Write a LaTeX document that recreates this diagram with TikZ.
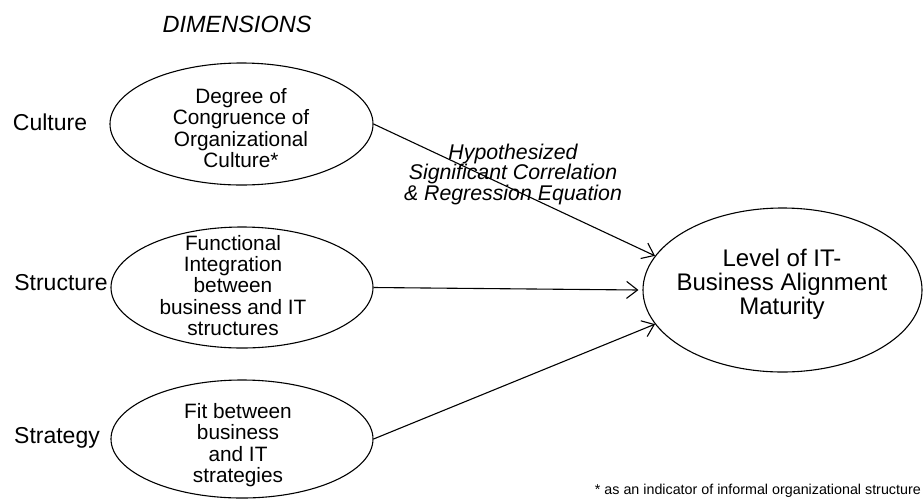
\documentclass[tikz,border=0pt]{standalone}
\usepackage{fontspec}
\setmainfont{Liberation Sans}
\usetikzlibrary{arrows.meta,shapes.geometric}
\begin{document}
\begin{tikzpicture}[x=1pt,y=-1pt,
  ell/.style={draw,ellipse,line width=1.1pt,inner sep=0pt},
  etxt/.style={align=center,inner sep=0pt,font=\fontsize{20.8}{21.3}\selectfont},
  ttxt/.style={align=center,inner sep=0pt,font=\fontsize{24}{24}\selectfont},
  dimlabel/.style={inner sep=0pt,font=\fontsize{23}{24}\selectfont},
  itxt/.style={align=center,inner sep=0pt,font=\fontsize{21.3}{20.5}\selectfont\itshape},
  conn/.style={line width=1.1pt,-{Straight Barb[length=11pt,width=17pt,line width=1.1pt]}}
]
\useasboundingbox (0,0) rectangle (923,499);

\node[inner sep=0pt,font=\fontsize{23.5}{24}\selectfont\itshape] (dim) at (237,24) {DIMENSIONS};

\node[dimlabel] (lc) at (50,122) {Culture};
\node[dimlabel] (ls) at (61,283) {Structure};
\node[dimlabel] (lg) at (57,438) {Strategy};

\node[ell,minimum width=263pt,minimum height=122pt] (c) at (241.5,124) {};
\node[etxt] (ct) at (241,128) {Degree of\\Congruence of\\Organizational\\Culture*};

\node[ell,minimum width=262pt,minimum height=121pt] (s) at (242,287.5) {};
\node[etxt] (st) at (233,285.5) {Functional\\Integration\\between\\business and IT\\structures};

\node[ell,minimum width=262pt,minimum height=118pt] (g) at (242,439) {};
\node[etxt] (gt) at (238,445) {Fit between\\business\\and IT\\strategies};

\node[ell,minimum width=279pt,minimum height=164pt] (t) at (782.5,290) {};
\node[ttxt] (tt) at (782,284) {Level of IT-\\Business Alignment\\Maturity};

\node[itxt] (hyp) at (513,174) {Hypothesized\\Significant Correlation\\\& Regression Equation};

\draw[conn] (c.east) -- (t.165);
\draw[conn] (s.east) -- ([xshift=-4pt]t.west);
\draw[conn] (g.east) -- (t.195);

\node[anchor=east,inner sep=0pt,font=\fontsize{14.3}{15}\selectfont] (fn) at (921,491) {* as an indicator of informal organizational structure};
\end{tikzpicture}
\end{document}
